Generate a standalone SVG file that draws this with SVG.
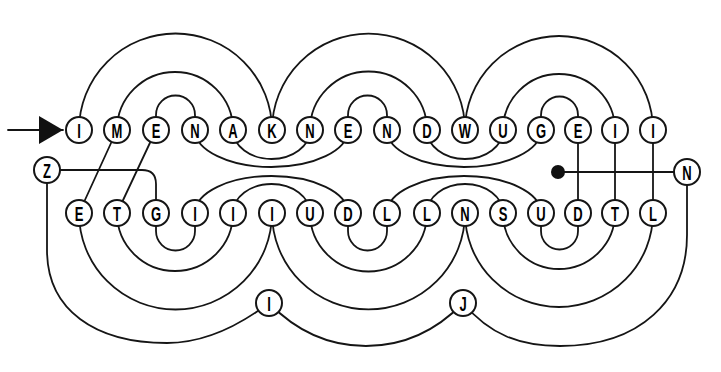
<svg xmlns="http://www.w3.org/2000/svg" width="721" height="372" viewBox="0 0 721 372">
<defs>
<style>
.c{fill:none;stroke:#151515;stroke-width:1.8;stroke-linecap:round}
.n circle{fill:#fff;stroke:#151515;stroke-width:2}
.n text{font-family:"Liberation Sans",Arial,sans-serif;font-weight:bold;font-size:21px;fill:#000;text-anchor:middle}
</style>
<marker id="arr" markerUnits="userSpaceOnUse" markerWidth="26" markerHeight="30" refX="24" refY="14" orient="auto">
<path d="M0,0 L24,14 L0,28 Z" fill="#111"/>
</marker>
</defs>
<rect width="721" height="372" fill="#fff"/>
<g id="connectors">
<path class="c" d="M8,130 H63" marker-end="url(#arr)"/>
<path class="c" d="M79,130 A96.5,96.5 0 0 1 272,130"/>
<path class="c" d="M117,130 A58,58 0 0 1 233,130"/>
<path class="c" d="M156,130 L156,115 A19.5,19.5 0 0 1 195,115 L195,130"/>
<path class="c" d="M272,130 A96.5,96.5 0 0 1 465,130"/>
<path class="c" d="M310,130 A58.5,58.5 0 0 1 427,130"/>
<path class="c" d="M348,130 L348,115 A19.5,19.5 0 0 1 387,115 L387,130"/>
<path class="c" d="M465,130 A94,94 0 0 1 653,130"/>
<path class="c" d="M503,130 A56,56 0 0 1 615,130"/>
<path class="c" d="M541,130 L541,115 A18.5,18.5 0 0 1 578,115 L578,130"/>
<path class="c" d="M195,130 A76.5,37 0 0 0 348,130"/>
<path class="c" d="M233,130 A38.5,29 0 0 0 310,130"/>
<path class="c" d="M387,130 A77,37 0 0 0 541,130"/>
<path class="c" d="M427,130 A38,29 0 0 0 503,130"/>
<path class="c" d="M195,213 A76.5,37 0 0 1 348,213"/>
<path class="c" d="M233,213 A38.5,29 0 0 1 310,213"/>
<path class="c" d="M387,213 A77,37 0 0 1 541,213"/>
<path class="c" d="M427,213 A38,29 0 0 1 503,213"/>
<path class="c" d="M79,213 A96.5,96.5 0 0 0 272,213"/>
<path class="c" d="M117,213 A58,58 0 0 0 233,213"/>
<path class="c" d="M156,213 L156,231 A19.5,19.5 0 0 0 195,231 L195,213"/>
<path class="c" d="M272,213 A96.5,96.5 0 0 0 465,213"/>
<path class="c" d="M310,213 A58.5,58.5 0 0 0 427,213"/>
<path class="c" d="M348,213 L348,231 A19.5,19.5 0 0 0 387,231 L387,213"/>
<path class="c" d="M465,213 A94,94 0 0 0 653,213"/>
<path class="c" d="M503,213 A56,56 0 0 0 615,213"/>
<path class="c" d="M541,213 L541,231 A18.5,18.5 0 0 0 578,231 L578,213"/>
<path class="c" d="M117,130 L79,213"/>
<path class="c" d="M156,130 L117,213"/>
<path class="c" d="M578,130 V213"/>
<path class="c" d="M615,130 V213"/>
<path class="c" d="M653,130 V213"/>
<path class="c" d="M558,172 H687"/>
<circle cx="558" cy="172" r="7" fill="#111"/>
<path class="c" d="M47,170 H142 Q156,170 156,184 V213"/>
<path class="c" d="M47,170 V250 C47,310 95,343 167,343 C205,343 240,325 269,303"/>
<path class="c" d="M269,303 C300,335 335,346 366,346 C397,346 432,335 463,303"/>
<path class="c" d="M463,303 C490,335 520,346 560,346 C640,346 687,300 687,235 V172"/>
</g>
<g id="n-top-I1" class="n"><circle cx="79" cy="130" r="13"/><text transform="translate(79,137.5) scale(0.62,1)">I</text></g>
<g id="n-top-M" class="n"><circle cx="117" cy="130" r="13"/><text transform="translate(117,137.5) scale(0.62,1)">M</text></g>
<g id="n-top-E1" class="n"><circle cx="156" cy="130" r="13"/><text transform="translate(156,137.5) scale(0.62,1)">E</text></g>
<g id="n-top-N1" class="n"><circle cx="195" cy="130" r="13"/><text transform="translate(195,137.5) scale(0.62,1)">N</text></g>
<g id="n-top-A" class="n"><circle cx="233" cy="130" r="13"/><text transform="translate(233,137.5) scale(0.62,1)">A</text></g>
<g id="n-top-K" class="n"><circle cx="272" cy="130" r="13"/><text transform="translate(272,137.5) scale(0.62,1)">K</text></g>
<g id="n-top-N2" class="n"><circle cx="310" cy="130" r="13"/><text transform="translate(310,137.5) scale(0.62,1)">N</text></g>
<g id="n-top-E2" class="n"><circle cx="348" cy="130" r="13"/><text transform="translate(348,137.5) scale(0.62,1)">E</text></g>
<g id="n-top-N3" class="n"><circle cx="387" cy="130" r="13"/><text transform="translate(387,137.5) scale(0.62,1)">N</text></g>
<g id="n-top-D" class="n"><circle cx="427" cy="130" r="13"/><text transform="translate(427,137.5) scale(0.62,1)">D</text></g>
<g id="n-top-W" class="n"><circle cx="465" cy="130" r="13"/><text transform="translate(465,137.5) scale(0.62,1)">W</text></g>
<g id="n-top-U" class="n"><circle cx="503" cy="130" r="13"/><text transform="translate(503,137.5) scale(0.62,1)">U</text></g>
<g id="n-top-G" class="n"><circle cx="541" cy="130" r="13"/><text transform="translate(541,137.5) scale(0.62,1)">G</text></g>
<g id="n-top-E3" class="n"><circle cx="578" cy="130" r="13"/><text transform="translate(578,137.5) scale(0.62,1)">E</text></g>
<g id="n-top-I2" class="n"><circle cx="615" cy="130" r="13"/><text transform="translate(615,137.5) scale(0.62,1)">I</text></g>
<g id="n-top-I3" class="n"><circle cx="653" cy="130" r="13"/><text transform="translate(653,137.5) scale(0.62,1)">I</text></g>
<g id="n-bot-E" class="n"><circle cx="79" cy="213" r="13"/><text transform="translate(79,220.5) scale(0.62,1)">E</text></g>
<g id="n-bot-T1" class="n"><circle cx="117" cy="213" r="13"/><text transform="translate(117,220.5) scale(0.62,1)">T</text></g>
<g id="n-bot-G" class="n"><circle cx="156" cy="213" r="13"/><text transform="translate(156,220.5) scale(0.62,1)">G</text></g>
<g id="n-bot-I1" class="n"><circle cx="195" cy="213" r="13"/><text transform="translate(195,220.5) scale(0.62,1)">I</text></g>
<g id="n-bot-I2" class="n"><circle cx="233" cy="213" r="13"/><text transform="translate(233,220.5) scale(0.62,1)">I</text></g>
<g id="n-bot-I3" class="n"><circle cx="272" cy="213" r="13"/><text transform="translate(272,220.5) scale(0.62,1)">I</text></g>
<g id="n-bot-U1" class="n"><circle cx="310" cy="213" r="13"/><text transform="translate(310,220.5) scale(0.62,1)">U</text></g>
<g id="n-bot-D1" class="n"><circle cx="348" cy="213" r="13"/><text transform="translate(348,220.5) scale(0.62,1)">D</text></g>
<g id="n-bot-L1" class="n"><circle cx="387" cy="213" r="13"/><text transform="translate(387,220.5) scale(0.62,1)">L</text></g>
<g id="n-bot-L2" class="n"><circle cx="427" cy="213" r="13"/><text transform="translate(427,220.5) scale(0.62,1)">L</text></g>
<g id="n-bot-N" class="n"><circle cx="465" cy="213" r="13"/><text transform="translate(465,220.5) scale(0.62,1)">N</text></g>
<g id="n-bot-S" class="n"><circle cx="503" cy="213" r="13"/><text transform="translate(503,220.5) scale(0.62,1)">S</text></g>
<g id="n-bot-U2" class="n"><circle cx="541" cy="213" r="13"/><text transform="translate(541,220.5) scale(0.62,1)">U</text></g>
<g id="n-bot-D2" class="n"><circle cx="578" cy="213" r="13"/><text transform="translate(578,220.5) scale(0.62,1)">D</text></g>
<g id="n-bot-T2" class="n"><circle cx="615" cy="213" r="13"/><text transform="translate(615,220.5) scale(0.62,1)">T</text></g>
<g id="n-bot-L3" class="n"><circle cx="653" cy="213" r="13"/><text transform="translate(653,220.5) scale(0.62,1)">L</text></g>
<g id="n-Z" class="n"><circle cx="47" cy="170" r="13"/><text transform="translate(47,177.5) scale(0.62,1)">Z</text></g>
<g id="n-N-right" class="n"><circle cx="687" cy="172" r="13"/><text transform="translate(687,179.5) scale(0.62,1)">N</text></g>
<g id="n-I-low" class="n"><circle cx="269" cy="303" r="13"/><text transform="translate(269,310.5) scale(0.62,1)">I</text></g>
<g id="n-J" class="n"><circle cx="463" cy="303" r="13"/><text transform="translate(463,310.5) scale(0.62,1)">J</text></g>
</svg>
